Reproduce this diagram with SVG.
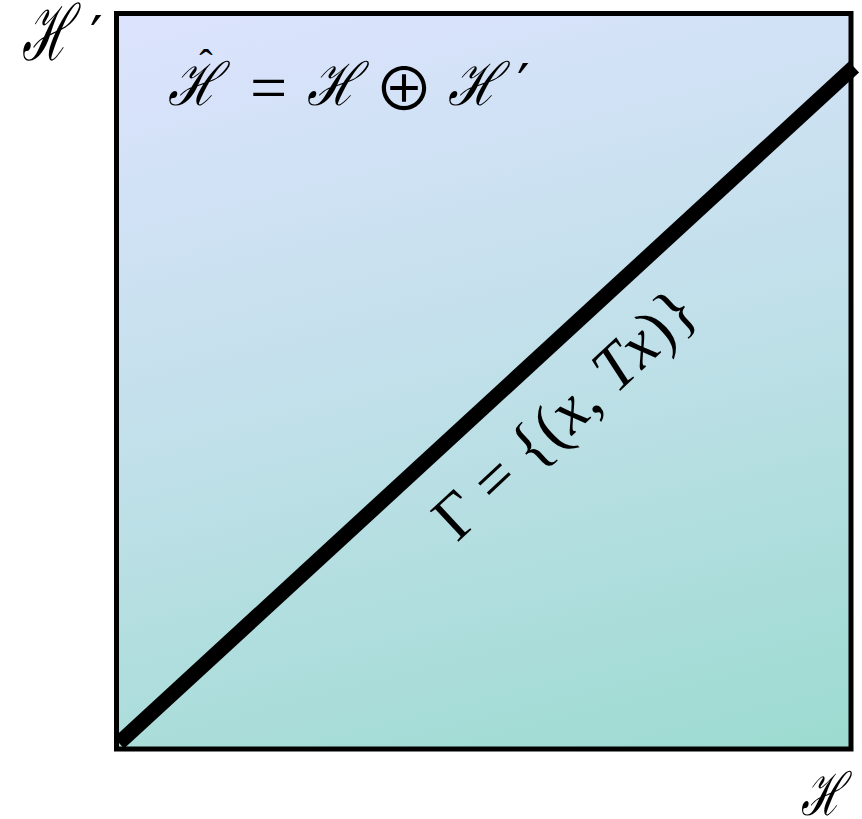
<svg xmlns="http://www.w3.org/2000/svg" width="862" height="819" viewBox="0 0 862 819">
<defs>
<linearGradient id="bg" x1="0" y1="0" x2="0.294" y2="1.176">
<stop offset="0" stop-color="#dde3fe"/>
<stop offset="0.5" stop-color="#c0e0e9"/>
<stop offset="1" stop-color="#9cdbd0"/>
</linearGradient>
<style>
.scr{font-family:"DejaVu Serif","Liberation Serif",serif;font-style:italic;font-size:52px;fill:#000}
.pr{font-family:"DejaVu Serif",serif;font-size:56px;fill:#000}
.m{font-family:"Liberation Serif",serif;font-size:64px;fill:#000}
.i{font-style:italic}
</style>
</defs>
<rect width="862" height="819" fill="#fff"/>
<g id="space">
<rect x="116.5" y="13.5" width="734.5" height="735.5" fill="url(#bg)" stroke="#000" stroke-width="5"/>
</g>
<g id="connectors">
<line x1="119" y1="743" x2="854" y2="67" stroke="#000" stroke-width="15"/>
</g>
<g id="axis-h-prime">
<text class="scr" transform="translate(22,60) scale(0.9,1.5)">ℋ</text>
<text class="pr" x="90" y="56">′</text>
</g>
<g id="equation">
<text class="scr" transform="translate(168,105) scale(0.95,1.15)">ℋ</text>
<text font-family="Liberation Serif" font-size="40" text-anchor="middle" x="206" y="77">ˆ</text>
<text font-family="Liberation Serif" font-size="66" text-anchor="middle" x="268.5" y="110">=</text>
<text class="scr" transform="translate(307,105) scale(0.95,1.15)">ℋ</text>
<text font-family="Noto Sans CJK SC" font-size="60" text-anchor="middle" x="404" y="111">⊕</text>
<text class="scr" transform="translate(448,105) scale(0.95,1.15)">ℋ</text>
<text class="pr" x="517" y="104">′</text>
</g>
<g id="axis-h">
<text class="scr" transform="translate(801,815) scale(0.78,1.15)">ℋ</text>
</g>
<g id="graph-label">
<text class="m" transform="translate(457,543) rotate(-43)">Γ = {(<tspan class="i">x</tspan>, <tspan class="i">Tx</tspan>)}</text>
</g>
</svg>
